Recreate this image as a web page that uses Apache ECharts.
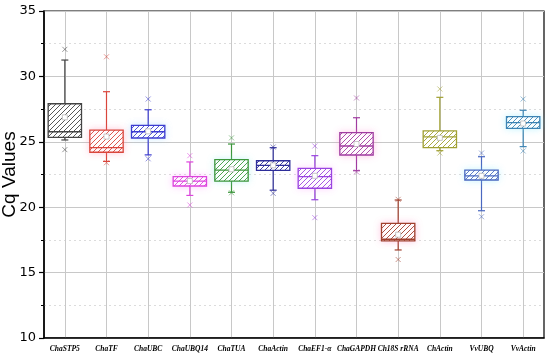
<!DOCTYPE html>
<html>
<head>
<meta charset="utf-8">
<script src="https://cdn.jsdelivr.net/npm/echarts@6/dist/echarts.min.js"></script>
<style>html,body{margin:0;padding:0;background:#fff}#c{width:550px;height:358px}</style>
</head>
<body>
<div id="c"></div>
<script>
const categories = ['ChaSTP5','ChaTF','ChaUBC','ChaUBQ14','ChaTUA','ChaActin','ChaEF1-α','ChaGAPDH','Ch18S rRNA','ChActin','VvUBQ','VvActin'];
const whiskerLow  = [25.14, 23.50, 24.00, 20.90, 21.14, 21.30, 20.57, 22.79, 16.73, 24.32, 19.73, 24.63];
const q1          = [25.34, 24.20, 25.29, 21.62, 22.00, 22.82, 21.45, 23.99, 17.42, 24.55, 22.08, 26.03];
const median      = [25.77, 24.55, 25.77, 22.00, 22.84, 23.20, 22.33, 24.68, 17.55, 25.37, 22.39, 26.46];
const q3          = [27.91, 25.90, 26.26, 22.33, 23.63, 23.55, 22.97, 25.70, 18.77, 25.83, 22.84, 26.92];
const whiskerHigh = [31.25, 28.83, 27.45, 23.46, 24.83, 24.55, 23.94, 26.84, 20.55, 28.40, 23.86, 27.41];
const means       = [26.87, 25.40, 25.80, 22.00, 22.90, 23.20, 22.40, 24.83, 17.90, 25.30, 22.40, 26.40];
const outlierLow  = [24.40, 23.40, 23.70, 20.17, 21.10, 21.06, 19.20, 22.70, 16.00, 24.14, 19.27, 24.30];
const outlierHigh = [32.07, 31.50, 28.27, 23.94, 25.30, 24.60, 24.68, 28.35, 20.60, 29.04, 24.14, 28.27];
const yTicks = [10, 15, 20, 25, 30, 35];

const colors = ['#444444','#D9463C','#3C3CD0','#DD44DD','#3C963C','#2E2E9A','#9A44E0','#A03CA0','#A0402E','#A0A032','#4A68C0','#3C84B4'];
const glows  = ['rgba(0,0,0,0)','rgba(255,120,160,0.35)','rgba(120,200,255,0.3)','rgba(255,120,255,0.35)','rgba(120,230,230,0.35)','rgba(0,0,0,0)','rgba(255,140,255,0.3)','rgba(255,120,200,0.35)','rgba(255,120,180,0.35)','rgba(0,0,0,0)','rgba(120,230,255,0.35)','rgba(120,230,255,0.4)'];

function hatch(color){
  const c = document.createElement('canvas');
  c.width = 5; c.height = 5;
  const g = c.getContext('2d');
  g.fillStyle = '#fff'; g.fillRect(0,0,5,5);
  g.strokeStyle = color; g.lineWidth = 0.9;
  g.beginPath();
  g.moveTo(0,5); g.lineTo(5,0);
  g.moveTo(-2.5,2.5); g.lineTo(2.5,-2.5);
  g.moveTo(2.5,7.5); g.lineTo(7.5,2.5);
  g.stroke();
  return {image: c, repeat: 'repeat'};
}
const patterns = colors.map(hatch);

const data = categories.map((c,i)=>[i, whiskerLow[i], q1[i], median[i], q3[i], whiskerHigh[i], means[i], outlierLow[i], outlierHigh[i]]);

function renderItem(params, api){
  const i = api.value(0);
  const col = colors[i];
  const x = api.coord([i, 0])[0];
  const Y = k => api.coord([i, api.value(k)])[1];
  const yLo = Y(1), yQ1 = Y(2), yMed = Y(3), yQ3 = Y(4), yHi = Y(5), yMean = Y(6), yOL = Y(7), yOH = Y(8);
  const bw = api.size([1, 0])[0] * 0.8;
  const cap = 3.5;
  const cross = (cy) => ({
    type: 'group', children: [
      {type:'line', shape:{x1:x-2.5,y1:cy-2.5,x2:x+2.5,y2:cy+2.5}, style:{stroke:col, opacity:0.55, lineWidth:1}},
      {type:'line', shape:{x1:x-2.5,y1:cy+2.5,x2:x+2.5,y2:cy-2.5}, style:{stroke:col, opacity:0.55, lineWidth:1}}
    ]});
  return {
    type: 'group',
    children: [
      {type:'line', shape:{x1:x,y1:yQ3,x2:x,y2:yHi}, style:{stroke:col, lineWidth:1.2}},
      {type:'line', shape:{x1:x,y1:yQ1,x2:x,y2:yLo}, style:{stroke:col, lineWidth:1.2}},
      {type:'line', shape:{x1:x-cap,y1:yHi,x2:x+cap,y2:yHi}, style:{stroke:col, lineWidth:1.2}},
      {type:'line', shape:{x1:x-cap,y1:yLo,x2:x+cap,y2:yLo}, style:{stroke:col, lineWidth:1.2}},
      {type:'rect', shape:{x:x-bw/2, y:yQ3, width:bw, height:yQ1-yQ3},
        style:{fill:patterns[i], stroke:col, lineWidth:1.3, shadowBlur:7, shadowColor:glows[i]}},
      {type:'line', shape:{x1:x-bw/2,y1:yMed,x2:x+bw/2,y2:yMed}, style:{stroke:col, lineWidth:1.3}},
      {type:'rect', shape:{x:x-2.5, y:yMean-2.5, width:5, height:5}, style:{fill:'#fff', stroke:'#bbbbbb', lineWidth:0.8}},
      cross(yOL),
      cross(yOH)
    ]
  };
}

const chart = echarts.init(document.getElementById('c'), null, {renderer:'canvas'});
chart.setOption({
  animation: false,
  backgroundColor: '#fff',
  grid: {left: 44, right: 6, top: 11, bottom: 20, containLabel: false, outerBoundsMode: 'none',
    show: true, borderColor: '#000', borderWidth: 1.2, backgroundColor: 'transparent'},
  xAxis: {
    type: 'category', data: categories, boundaryGap: true,
    axisLine: {lineStyle: {color: '#000', width: 1.5}},
    axisTick: {alignWithLabel: true, length: 5, lineStyle: {color: '#000', width: 1.2}},
    splitLine: {show: true, alignWithLabel: true, interval: 0, lineStyle: {color: '#c8c8c8', width: 1}},
    axisLabel: {interval: 0, margin: 7, fontFamily: 'Liberation Serif', fontStyle: 'italic', fontWeight: 'bold', fontSize: 7.5, color: '#000'}
  },
  yAxis: {
    type: 'value', min: 10, max: 35, interval: 5,
    name: 'Cq Values', nameLocation: 'middle', nameGap: 25, nameMoveOverlap: false,
    nameTextStyle: {fontFamily: 'Liberation Sans', fontSize: 19, color: '#000'},
    axisLine: {show: true, lineStyle: {color: '#000', width: 1.5}},
    axisTick: {show: true, length: 5, lineStyle: {color: '#000', width: 1.2}},
    minorTick: {show: true, splitNumber: 2, length: 3, lineStyle: {color: '#000', width: 1}},
    splitLine: {show: true, lineStyle: {color: '#c8c8c8', width: 1}},
    minorSplitLine: {show: true, lineStyle: {color: '#dcdcdc', width: 1, type: [2, 3]}},
    axisLabel: {margin: 8, fontFamily: 'DejaVu Sans', fontSize: 13, color: '#000',
      formatter: v => yTicks.indexOf(v) >= 0 ? String(v) : ''}
  },
  series: [{
    type: 'custom',
    renderItem: renderItem,
    encode: {x: 0, y: [1,2,3,4,5,6,7,8]},
    data: data,
    z: 5
  }]
});
</script>
</body>
</html>
